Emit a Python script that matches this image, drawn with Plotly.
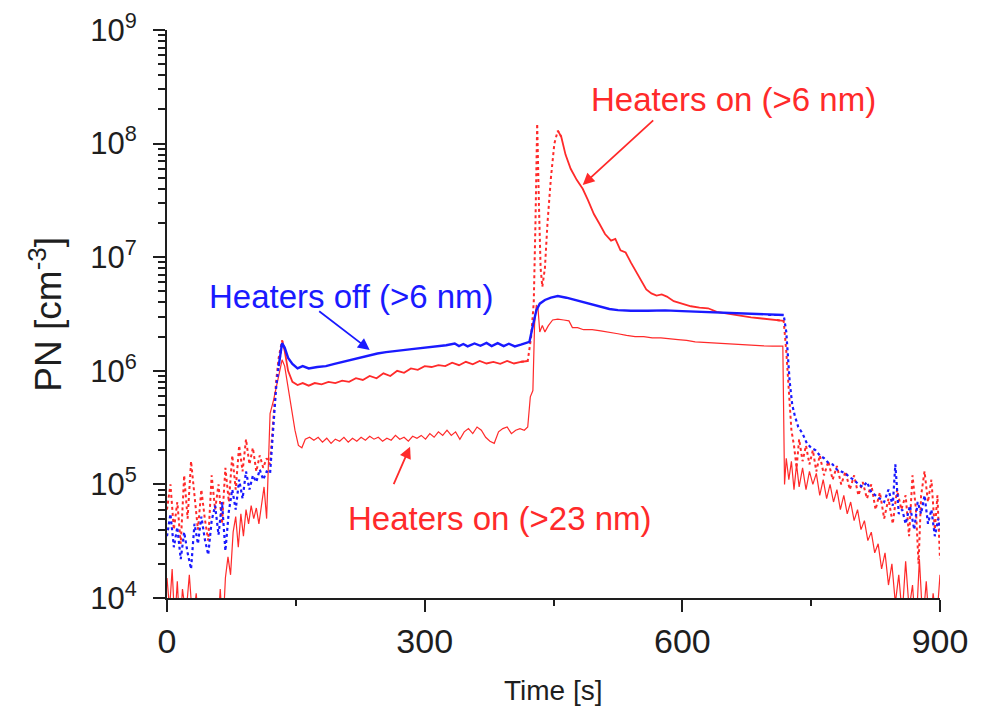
import plotly.graph_objects as go

# ---------------- data ----------------
t_off = [0, 4, 8, 12, 16, 20, 24, 28, 32, 36, 40, 44, 48, 52, 56, 60, 64, 68, 72, 76,
         80, 84, 88, 92, 96, 100, 104, 108, 112, 116, 120, 124, 127, 130, 134, 137, 141,
         146, 152, 158, 165, 175, 185, 195, 205, 215, 225, 235, 245, 255, 265, 275, 285,
         295, 305, 315, 325, 335, 340, 345, 350, 358, 365, 372, 378, 385, 392, 398, 405,
         412, 418, 422, 426, 430, 434, 440, 447, 455, 465, 475, 485, 495, 505, 515, 525,
         540, 560, 580, 600, 620, 640, 660, 680, 700, 718, 721, 723, 725, 728, 731, 735,
         740, 745, 750, 755, 760, 765, 770, 775, 780, 785, 790, 795, 800, 805, 810, 815,
         820, 825, 830, 835, 840, 845, 848, 852, 856, 860, 865, 870, 874, 878, 882, 886,
         890, 894, 898, 900]
pn_off = [3.5e4, 5.5e4, 2.8e4, 4.2e4, 2.2e4, 3.8e4, 2.5e4, 1.8e4, 4.5e4, 3.0e4, 5.2e4,
          3.3e4, 2.4e4, 4.8e4, 6.5e4, 3.6e4, 7.0e4, 2.6e4, 5.8e4, 9.0e4, 6.0e4, 1.1e5,
          7.5e4, 1.3e5, 9.0e4, 1.2e5, 1.05e5, 1.35e5, 1.1e5, 1.3e5, 1.25e5, 3.0e5, 7.0e5,
          1.1e6, 1.75e6, 1.6e6, 1.3e6, 1.15e6, 1.05e6, 1.1e6, 1.05e6, 1.08e6, 1.1e6,
          1.15e6, 1.2e6, 1.25e6, 1.32e6, 1.38e6, 1.42e6, 1.46e6, 1.5e6, 1.52e6, 1.55e6,
          1.58e6, 1.62e6, 1.64e6, 1.68e6, 1.74e6, 1.65e6, 1.72e6, 1.64e6, 1.74e6, 1.66e6,
          1.76e6, 1.65e6, 1.75e6, 1.65e6, 1.73e6, 1.64e6, 1.7e6, 1.76e6, 1.8e6, 2.5e6,
          3.4e6, 3.9e6, 4.2e6, 4.4e6, 4.55e6, 4.4e6, 4.2e6, 4.0e6, 3.8e6, 3.65e6, 3.5e6,
          3.42e6, 3.38e6, 3.38e6, 3.4e6, 3.35e6, 3.3e6, 3.25e6, 3.2e6, 3.15e6, 3.1e6,
          3.1e6, 2.2e6, 1.3e6, 8.0e5, 5.0e5, 4.0e5, 3.2e5, 2.8e5, 2.3e5, 2.1e5, 2.0e5,
          1.8e5, 1.7e5, 1.55e5, 1.5e5, 1.35e5, 1.3e5, 1.25e5, 1.15e5, 1.1e5, 1.0e5, 9.5e4,
          1.05e5, 8.5e4, 8.0e4, 7.5e4, 7.0e4, 9.0e4, 6.5e4, 1.5e5, 5.5e4, 6.0e4, 4.5e4,
          6.5e4, 4.0e4, 7.0e4, 5.5e4, 8.0e4, 4.5e4, 6.0e4, 3.5e4, 5.0e4, 4.0e4]

t_on6 = [0, 4, 8, 12, 16, 20, 24, 28, 32, 36, 40, 44, 48, 52, 56, 60, 64, 68, 72, 76, 80,
         84, 88, 92, 96, 100, 104, 108, 112, 116, 120, 124, 127, 130, 134, 137, 141, 146,
         152, 158, 165, 172, 180, 188, 196, 204, 212, 220, 228, 236, 244, 252, 260, 268,
         276, 284, 292, 300, 308, 316, 324, 332, 340, 348, 356, 364, 372, 380, 388, 396,
         404, 412, 420, 424, 427, 429, 431, 433, 435, 437, 440, 443, 447, 451, 455, 459,
         464, 470, 477, 484, 490, 497, 503, 510, 517, 522, 528, 534, 540, 546, 552, 558,
         564, 570, 576, 582, 590, 600, 610, 620, 630, 640, 650, 660, 670, 680, 690, 700,
         710, 718, 721, 723, 725, 727, 730, 733, 736, 740, 744, 748, 752, 756, 760, 765,
         770, 775, 780, 785, 790, 795, 800, 805, 810, 815, 820, 825, 830, 835, 840, 845,
         850, 855, 860, 864, 868, 872, 875, 878, 882, 886, 890, 894, 897, 900]
pn_on6 = [6.0e4, 1.0e5, 4.0e4, 7.0e4, 3.0e4, 1.2e5, 5.0e4, 1.6e5, 8.0e4, 4.0e4, 9.0e4,
          5.0e4, 3.2e4, 1.2e5, 6.0e4, 1.0e5, 4.5e4, 1.4e5, 7.0e4, 1.8e5, 9.0e4, 2.2e5,
          1.3e5, 2.5e5, 1.5e5, 2.1e5, 1.3e5, 1.8e5, 1.4e5, 1.7e5, 1.5e5, 4.0e5, 8.0e5,
          1.3e6, 1.85e6, 1.5e6, 1.0e6, 8.0e5, 7.5e5, 7.8e5, 7.4e5, 7.8e5, 7.6e5, 8.0e5,
          7.8e5, 8.2e5, 8.0e5, 8.6e5, 8.3e5, 9.0e5, 8.6e5, 9.5e5, 9.0e5, 1.0e6, 9.6e5,
          1.05e6, 1.02e6, 1.1e6, 1.08e6, 1.12e6, 1.1e6, 1.18e6, 1.12e6, 1.2e6, 1.14e6,
          1.22e6, 1.16e6, 1.2e6, 1.15e6, 1.22e6, 1.16e6, 1.2e6, 1.22e6, 2.0e6, 4.0e6,
          2.0e7, 1.5e8, 3.0e7, 8.0e6, 5.5e6, 8.0e6, 2.0e7, 5.0e7, 1.0e8, 1.3e8, 1.15e8,
          8.0e7, 6.0e7, 4.8e7, 4.0e7, 3.2e7, 2.4e7, 2.0e7, 1.6e7, 1.4e7, 1.45e7, 1.15e7,
          1.1e7, 9.0e6, 7.5e6, 6.3e6, 5.2e6, 4.8e6, 4.6e6, 4.7e6, 4.5e6, 4.1e6, 3.9e6,
          3.7e6, 3.6e6, 3.55e6, 3.3e6, 3.2e6, 3.15e6, 3.05e6, 2.95e6, 2.9e6, 2.85e6,
          2.8e6, 2.75e6, 1.5e6, 8.0e5, 5.0e5, 3.0e5, 2.2e5, 1.4e5, 2.5e5, 1.6e5, 2.2e5,
          1.5e5, 2.0e5, 1.3e5, 1.8e5, 1.2e5, 1.6e5, 1.1e5, 1.45e5, 1.0e5, 1.3e5, 9.0e4,
          1.2e5, 8.0e4, 1.05e5, 7.5e4, 1.0e5, 6.0e4, 8.5e4, 5.0e4, 7.5e4, 4.5e4, 9.0e4,
          6.0e4, 8.0e4, 3.5e4, 1.2e5, 6.0e4, 2.0e4, 8.0e4, 1.3e5, 7.0e4, 1.1e5, 4.0e4,
          8.0e4, 2.2e4]

t_on23 = [0, 3, 6, 9, 12, 15, 18, 22, 26, 30, 34, 38, 42, 46, 50, 54, 58, 62, 65, 68, 71,
          74, 77, 80, 83, 86, 89, 92, 95, 98, 101, 104, 107, 110, 113, 116, 118, 120, 124,
          127, 131, 134, 137, 141, 145, 149, 153, 157, 161, 166, 171, 176, 181, 186, 191,
          196, 201, 206, 211, 216, 221, 226, 231, 236, 241, 246, 251, 256, 261, 266, 271,
          276, 281, 286, 291, 296, 301, 306, 311, 316, 321, 326, 331, 336, 341, 346, 351,
          356, 361, 366, 371, 376, 381, 386, 391, 396, 401, 406, 411, 416, 420, 423, 426,
          428, 430, 432, 434, 437, 440, 444, 449, 455, 462, 468, 472, 478, 485, 495, 505,
          515, 525, 535, 545, 555, 565, 575, 585, 595, 605, 615, 625, 635, 645, 655, 665,
          675, 685, 695, 705, 715, 717, 719, 721, 724, 727, 730, 733, 736, 740, 744, 748,
          752, 756, 760, 764, 768, 772, 776, 780, 784, 788, 792, 796, 800, 804, 808, 812,
          816, 820, 824, 828, 832, 836, 840, 844, 848, 852, 856, 860, 864, 868, 872, 876,
          880, 884, 888, 892, 896, 900]
pn_on23 = [1.5e4, 8.0e3, 1.8e4, 6.0e3, 1.4e4, 5.0e3, 1.2e4, 7.0e3, 1.6e4, 6.0e3, 1.1e4,
           5.0e3, 8.0e3, 6.0e3, 5.0e3, 9.0e3, 4.0e3, 1.2e4, 5.0e3, 1.5e4, 2.3e4, 1.6e4,
           3.8e4, 5.2e4, 2.8e4, 5.5e4, 3.5e4, 6.0e4, 4.5e4, 6.5e4, 5.0e4, 6.2e4, 4.5e4,
           6.5e4, 9.5e4, 5.0e4, 1.5e5, 4.2e5, 5.5e5, 7.2e5, 1.0e6, 1.25e6, 1.1e6, 7.0e5,
           4.5e5, 3.0e5, 2.2e5, 2.1e5, 2.5e5, 2.6e5, 2.45e5, 2.6e5, 2.35e5, 2.55e5, 2.3e5,
           2.5e5, 2.4e5, 2.6e5, 2.35e5, 2.55e5, 2.4e5, 2.6e5, 2.45e5, 2.65e5, 2.5e5, 2.6e5,
           2.4e5, 2.55e5, 2.45e5, 2.7e5, 2.5e5, 2.6e5, 2.4e5, 2.65e5, 2.55e5, 2.7e5, 2.5e5,
           2.8e5, 2.6e5, 2.9e5, 2.7e5, 3.0e5, 2.7e5, 2.9e5, 2.5e5, 2.9e5, 3.1e5, 2.8e5,
           3.2e5, 3.0e5, 2.6e5, 2.4e5, 2.3e5, 2.9e5, 3.1e5, 3.2e5, 2.8e5, 3.0e5, 3.1e5,
           3.0e5, 3.2e5, 5.9e5, 6.7e5, 2.6e6, 3.8e6, 3.5e6, 2.2e6, 2.5e6, 2.2e6, 2.5e6,
           2.8e6, 2.85e6, 2.8e6, 2.75e6, 2.4e6, 2.4e6, 2.3e6, 2.3e6, 2.25e6, 2.2e6, 2.12e6,
           2.05e6, 2.0e6, 2.0e6, 1.95e6, 1.95e6, 1.9e6, 1.88e6, 1.85e6, 1.8e6, 1.78e6,
           1.76e6, 1.75e6, 1.72e6, 1.7e6, 1.68e6, 1.67e6, 1.66e6, 1.65e6, 1.63e6, 1.65e6,
           1.0e5, 1.7e5, 1.1e5, 1.6e5, 9.0e4, 1.5e5, 9.5e4, 1.4e5, 9.0e4, 1.3e5, 1.0e5,
           1.25e5, 8.0e4, 1.1e5, 7.5e4, 1.0e5, 7.0e4, 9.0e4, 6.0e4, 8.0e4, 5.5e4, 7.0e4,
           4.8e4, 6.0e4, 4.0e4, 4.8e4, 3.2e4, 3.8e4, 2.5e4, 3.0e4, 1.8e4, 2.5e4, 1.3e4,
           2.0e4, 9.0e3, 1.6e4, 7.0e3, 2.1e4, 8.0e3, 1.3e4, 5.0e3, 2.2e4, 6.0e3, 1.4e4,
           5.0e3, 1.1e4, 6.0e3, 1.6e4]

x_ticks = [0, 300, 600, 900]
x_minor_ticks = [150, 450, 750]
y_tick_exponents = [4, 5, 6, 7, 8, 9]

labels = {
    "off6": "Heaters off (>6 nm)",
    "on6": "Heaters on (>6 nm)",
    "on23": "Heaters on (>23 nm)",
}

BLUE = "#1a1aff"
RED = "#ff2a2a"
INK = "#1e1e1e"
FONT = "Liberation Sans, Arial, sans-serif"


def split(t, v, dotted_windows):
    """Return (dotted, solid) value lists; points outside a part become None."""
    flags = [any(a <= x <= b for a, b in dotted_windows) for x in t]
    n = len(t)
    dotted, solid = [], []
    for i in range(n):
        neigh = [flags[j] for j in (i - 1, i, i + 1) if 0 <= j < n]
        dotted.append(v[i] if any(neigh) else None)
        solid.append(v[i] if not all(neigh) else None)
    return dotted, solid


fig = go.Figure()

# >23 nm heaters on: thin solid line
fig.add_trace(go.Scatter(x=t_on23, y=pn_on23, mode="lines", name=labels["on23"],
                         line=dict(color=RED, width=1.2), showlegend=False))

# >6 nm heaters on: dotted in the noisy parts, solid where smooth
d6, s6 = split(t_on6, pn_on6, [(0, 134), (420, 455), (718, 900)])
fig.add_trace(go.Scatter(x=t_on6, y=d6, mode="lines", line=dict(color=RED, width=2, dash="dot"),
                         connectgaps=False, showlegend=False))
fig.add_trace(go.Scatter(x=t_on6, y=s6, mode="lines", line=dict(color=RED, width=1.8),
                         connectgaps=False, showlegend=False))

# >6 nm heaters off
dof, sof = split(t_off, pn_off, [(0, 130), (718, 900)])
fig.add_trace(go.Scatter(x=t_off, y=dof, mode="lines", line=dict(color=BLUE, width=2.2, dash="dot"),
                         connectgaps=False, showlegend=False))
fig.add_trace(go.Scatter(x=t_off, y=sof, mode="lines", line=dict(color=BLUE, width=2.4),
                         connectgaps=False, showlegend=False))

minor_y = [m * 10 ** e for e in range(4, 9) for m in range(2, 10)]

# the page body adds an 8 px offset, so margins are reduced accordingly
fig.update_layout(
    width=983, height=716,
    margin=dict(l=159, r=51, t=22, b=126, autoexpand=False),
    plot_bgcolor="white", paper_bgcolor="white",
    font=dict(family=FONT, color=INK),
    xaxis=dict(
        range=[0, 900], tickmode="array", tickvals=x_ticks,
        ticktext=[str(v) for v in x_ticks],
        ticks="outside", ticklen=12, tickwidth=2, tickcolor=INK,
        minor=dict(tickmode="array", tickvals=x_minor_ticks, ticks="outside",
                   ticklen=6, tickwidth=2, tickcolor=INK),
        showline=True, linewidth=2, linecolor=INK, showgrid=False, zeroline=False,
        tickfont=dict(size=34, family=FONT, color=INK),
        ticklabeloverflow="allow",
        automargin=False,
    ),
    yaxis=dict(
        type="log", range=[4, 9], tickmode="array",
        tickvals=[10 ** e for e in y_tick_exponents],
        ticktext=[f"10<sup>{e}</sup>" for e in y_tick_exponents],
        ticks="outside", ticklen=12, tickwidth=2, tickcolor=INK,
        minor=dict(tickmode="array", tickvals=minor_y, ticks="outside",
                   ticklen=7, tickwidth=1.5, tickcolor=INK),
        showline=True, linewidth=2, linecolor=INK, showgrid=False, zeroline=False,
        tickfont=dict(size=31, family=FONT, color=INK),
        ticklabelstandoff=10,
        ticklabeloverflow="allow",
        automargin=False,
    ),
)

# axis titles
fig.add_annotation(xref="paper", yref="paper", x=-0.157, y=0.50, text="PN [cm<sup>-3</sup>]",
                   textangle=-90, showarrow=False, xanchor="center", yanchor="middle",
                   font=dict(size=37, family=FONT, color=INK))
fig.add_annotation(xref="paper", yref="paper", x=0.5, y=-0.162, text="Time [s]",
                   showarrow=False, xanchor="center", yanchor="middle",
                   font=dict(size=28, family=FONT, color=INK))

# text labels (log axes: y given as exponent)
fig.add_annotation(x=215, y=6.65, text=labels["off6"], showarrow=False,
                   font=dict(size=33, color=BLUE, family=FONT))
fig.add_annotation(x=660, y=8.384, text=labels["on6"], showarrow=False,
                   font=dict(size=33, color=RED, family=FONT))
fig.add_annotation(x=388, y=4.704, text=labels["on23"], showarrow=False,
                   font=dict(size=33, color=RED, family=FONT))

# arrows
fig.add_annotation(x=236, y=6.183, ax=-52, ay=-40, text="", showarrow=True,
                   arrowhead=2, arrowsize=1.3, arrowwidth=1.8, arrowcolor=BLUE)
fig.add_annotation(x=484, y=7.636, ax=72, ay=-66, text="", showarrow=True,
                   arrowhead=2, arrowsize=1.3, arrowwidth=1.8, arrowcolor=RED)
fig.add_annotation(x=283, y=5.332, ax=-17, ay=39, text="", showarrow=True,
                   arrowhead=2, arrowsize=1.3, arrowwidth=1.8, arrowcolor=RED)

fig.write_html("out.html")
